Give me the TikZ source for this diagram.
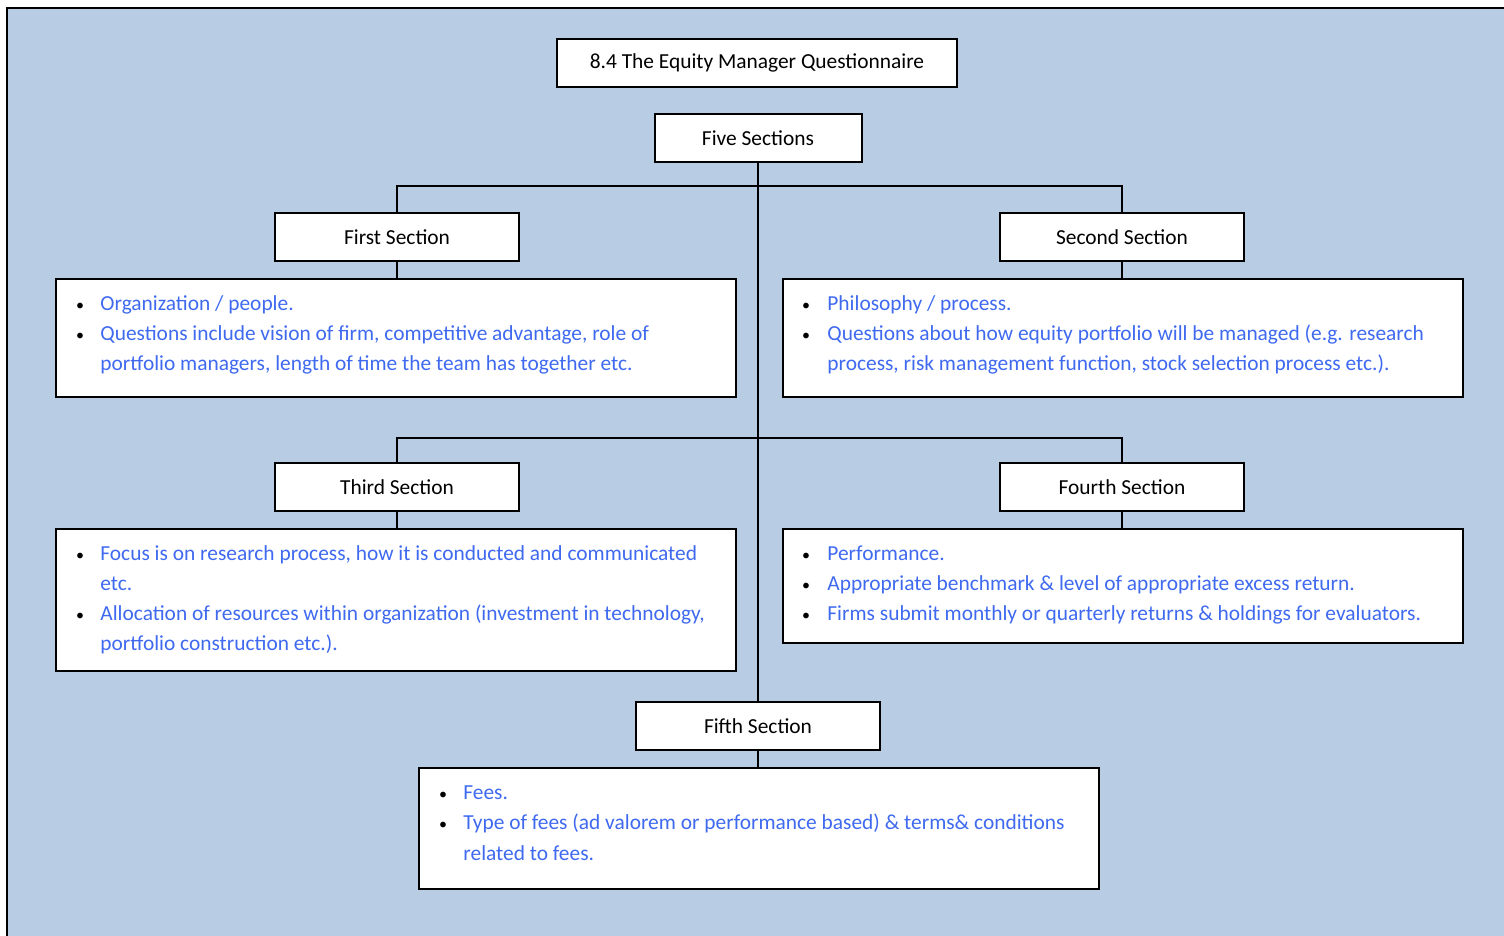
\documentclass[tikz,border=0pt]{standalone}
\usepackage{fontspec}
\setmainfont{Carlito}
\definecolor{panelblue}{HTML}{B8CCE4}
\definecolor{itemblue}{HTML}{3F6AF0}
\tikzset{
  lbl/.style={draw=black, fill=white, line width=1pt, inner sep=0pt,
              minimum height=24pt, font=\fontsize{10.7}{12}\selectfont},
  panel/.style={draw=black, fill=white, line width=1pt, inner sep=0pt,
              minimum width=340pt},
  link/.style={draw=black, line width=1pt},
  itemtxt/.style={anchor=base west, inner sep=0pt, text=itemblue,
              font=\fontsize{10.7}{12}\selectfont},
  dot/.style={anchor=base, inner sep=0pt, font=\fontsize{8}{10}\selectfont}
}
\begin{document}
\begin{tikzpicture}[x=0.5pt,y=-0.5pt]
  \useasboundingbox (0,0) rectangle (1504,936);
  % background panel with its top and left rules
  \fill[panelblue] (8,9) rectangle (1504,936);
  \draw[line width=1pt] (7,936) -- (7,8) -- (1504,8);

  % heading boxes
  \node[lbl, minimum width=200pt] (title) at (757,63) {8.4 The Equity Manager Questionnaire};
  \node[lbl, minimum width=103.5pt] (five) at (758,138) {Five Sections};
  \node[lbl, minimum width=122pt] (first) at (397,237) {First Section};
  \node[lbl, minimum width=122pt] (second) at (1122,237) {Second Section};
  \node[lbl, minimum width=122pt] (third) at (397,487) {Third Section};
  \node[lbl, minimum width=122pt] (fourth) at (1122,487) {Fourth Section};
  \node[lbl, minimum width=122pt] (fifth) at (758,726) {Fifth Section};

  % content panels
  \node[panel, minimum height=59pt] (p1) at (396,338) {};
  \node[panel, minimum height=59pt] (p2) at (1123,338) {};
  \node[panel, minimum height=71pt] (p3) at (396,600) {};
  \node[panel, minimum height=57pt] (p4) at (1123,586) {};
  \node[panel, minimum height=60.5pt] (p5) at (759,828.5) {};

  % junction points on the trunk
  \coordinate (j1) at (758,186);
  \coordinate (j2) at (758,438);

  % connectors
  \path[link] (five.south) -- (fifth.north);
  \path[link] (first.north) |- (j1) -| (second.north);
  \path[link] (third.north) |- (j2) -| (fourth.north);
  \path[link] (first.south) -- (first.south |- p1.north);
  \path[link] (second.south) -- (second.south |- p2.north);
  \path[link] (third.south) -- (third.south |- p3.north);
  \path[link] (fourth.south) -- (fourth.south |- p4.north);
  \path[link] (fifth.south) -- (fifth.south |- p5.north);

  % first panel
  \node[dot] (b11) at (80,310) {•};
  \node[itemtxt] (t11) at (100,310) {Organization / people.};
  \node[dot] (b12) at (80,340) {•};
  \node[itemtxt] (t12) at (100,340) {Questions include vision of firm, competitive advantage, role of};
  \node[itemtxt] (t13) at (100,370) {portfolio managers, length of time the team has together etc.};

  % second panel
  \node[dot] (b21) at (806,310) {•};
  \node[itemtxt] (t21) at (827,310) {Philosophy / process.};
  \node[dot] (b22) at (806,340) {•};
  \node[itemtxt] (t22) at (827,340) {Questions about how equity portfolio will be managed (e.g. research};
  \node[itemtxt] (t23) at (827,370) {process, risk management function, stock selection process etc.).};

  % third panel
  \node[dot] (b31) at (80,560) {•};
  \node[itemtxt] (t31) at (100,560) {Focus is on research process, how it is conducted and communicated};
  \node[itemtxt] (t32) at (100,590) {etc.};
  \node[dot] (b33) at (80,620) {•};
  \node[itemtxt] (t33) at (100,620) {Allocation of resources within organization (investment in technology,};
  \node[itemtxt] (t34) at (100,650) {portfolio construction etc.).};

  % fourth panel
  \node[dot] (b41) at (806,560) {•};
  \node[itemtxt] (t41) at (827,560) {Performance.};
  \node[dot] (b42) at (806,590) {•};
  \node[itemtxt] (t42) at (827,590) {Appropriate benchmark \& level of appropriate excess return.};
  \node[dot] (b43) at (806,620) {•};
  \node[itemtxt] (t43) at (827,620) {Firms submit monthly or quarterly returns \& holdings for evaluators.};

  % fifth panel
  \node[dot] (b51) at (443,799) {•};
  \node[itemtxt] (t51) at (463,799) {Fees.};
  \node[dot] (b52) at (443,829) {•};
  \node[itemtxt] (t52) at (463,829) {Type of fees (ad valorem or performance based) \& terms\& conditions};
  \node[itemtxt] (t53) at (463,860) {related to fees.};
\end{tikzpicture}
\end{document}
